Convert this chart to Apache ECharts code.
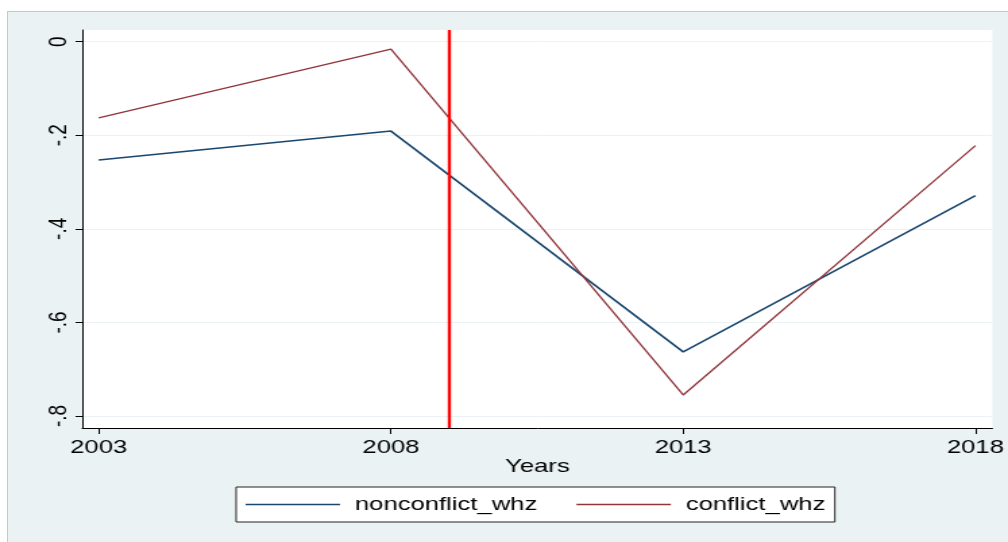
<!DOCTYPE html>
<html>
<head>
<meta charset="utf-8">
<script src="https://cdn.jsdelivr.net/npm/echarts@6/dist/echarts.min.js"></script>
<style>
  html, body { margin: 0; padding: 0; background: #ffffff; }
  #panel {
    position: absolute; left: 7px; top: 11px; right: 0; bottom: 0;
    background: #eaf2f3; border-top: 1px solid #c6c9ca; border-left: 1px solid #c6c9ca;
  }
  /* The plot is laid out at a narrower width and widened horizontally,
     so the Stata-style lettering comes out broad like the export. */
  #chart {
    position: absolute; left: 0; top: 0; width: 747px; height: 542px;
    transform: scaleX(1.3494); transform-origin: 0 0;
  }
</style>
</head>
<body>
<div id="panel"></div>
<div id="chart"></div>
<script>
// Survey rounds and mean weight-for-height z-scores
const years = [2003, 2008, 2013, 2018];
const nonconflictWhz = [-0.253, -0.191, -0.663, -0.329];
const conflictWhz = [-0.163, -0.016, -0.755, -0.222];
const yTicks = [0, -0.2, -0.4, -0.6, -0.8];
const eventYear = 2009;

const font = "'Liberation Sans', Arial, Helvetica, sans-serif";
const pairs = (vals) => years.map((y, i) => [y, vals[i]]);
const fmtY = (v) => (v === 0 ? '0' : v.toFixed(1).replace('0.', '.'));

const chart = echarts.init(document.getElementById('chart'), null, { renderer: 'canvas' });
chart.setOption({
  animation: false,
  backgroundColor: 'transparent',
  textStyle: { fontFamily: font, color: '#000' },
  grid: {
    left: 61, right: 11, top: 30, bottom: 114,
    show: true, backgroundColor: '#ffffff', borderWidth: 0
  },
  xAxis: {
    type: 'value',
    min: 2002.72, max: 2018.29,
    name: 'Years',
    nameLocation: 'middle',
    nameGap: 29,
    nameMoveOverlap: false,
    nameTextStyle: { fontFamily: font, fontSize: 19, color: '#000' },
    axisLine: { show: true, onZero: false, lineStyle: { color: '#000', width: 1 } },
    axisTick: { show: true, length: 6, customValues: years, lineStyle: { color: '#000' } },
    axisLabel: {
      customValues: years, margin: 10,
      fontFamily: font, fontSize: 19, color: '#000',
      formatter: (v) => String(v)
    },
    splitLine: { show: false }
  },
  yAxis: {
    type: 'value',
    min: -0.8256, max: 0.025,
    axisLine: { show: true, onZero: false, lineStyle: { color: '#000', width: 1 } },
    axisTick: { show: true, length: 5, customValues: yTicks, lineStyle: { color: '#000' } },
    axisLabel: {
      customValues: yTicks, rotate: 90, margin: 8,
      fontFamily: font, fontSize: 19, color: '#000',
      formatter: fmtY
    },
    splitLine: { show: true, lineStyle: { color: '#eaf2f3', width: 1 } }
  },
  legend: {
    left: 175, top: 487,
    padding: [8, 7, 8, 7],
    backgroundColor: '#ffffff',
    borderColor: '#222', borderWidth: 1, borderRadius: 0,
    icon: 'rect', itemWidth: 70, itemHeight: 1.5, itemGap: 29,
    textStyle: { fontFamily: font, fontSize: 19, color: '#000', padding: [0, 0, 0, 6] },
    data: ['nonconflict_whz', 'conflict_whz']
  },
  series: [
    {
      name: 'nonconflict_whz', type: 'line', data: pairs(nonconflictWhz),
      symbol: 'none', color: '#1a476f',
      lineStyle: { color: '#1a476f', width: 1.6 },
      markLine: {
        silent: true, symbol: 'none', label: { show: false },
        lineStyle: { color: '#ff0000', width: 2.3, type: 'solid' },
        data: [{ xAxis: eventYear }]
      }
    },
    {
      name: 'conflict_whz', type: 'line', data: pairs(conflictWhz),
      symbol: 'none', color: '#90353b',
      lineStyle: { color: '#90353b', width: 1.3 }
    }
  ]
});
</script>
</body>
</html>
